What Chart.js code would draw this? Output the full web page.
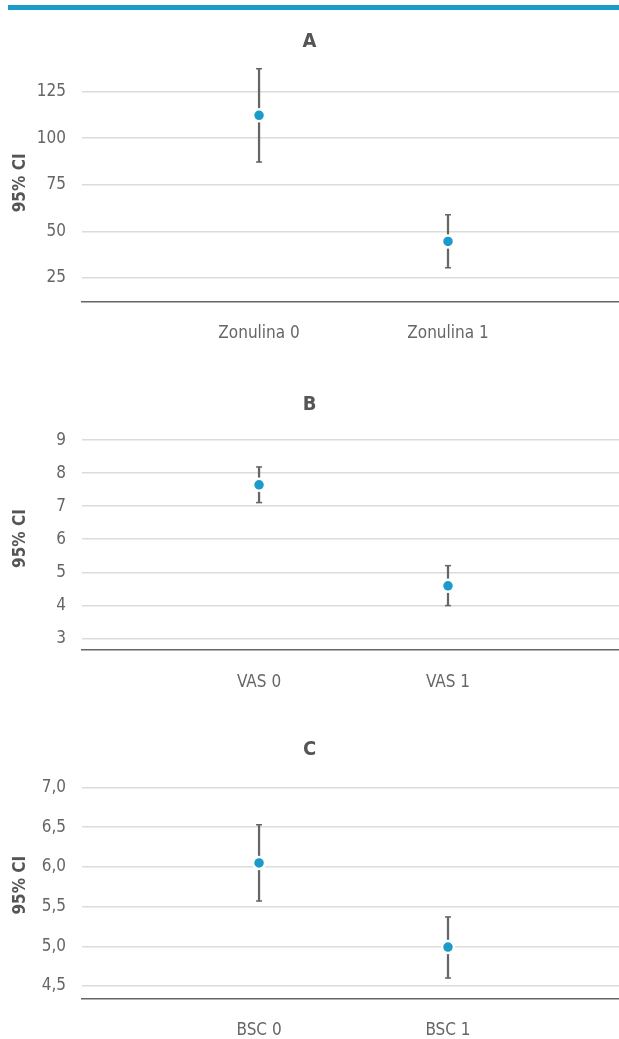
<!DOCTYPE html>
<html>
<head>
<meta charset="utf-8">
<script src="https://cdn.jsdelivr.net/npm/chart.js@4"></script>
<style>
  body { margin: 0; background: #fff; width: 619px; height: 1039px; position: relative; overflow: hidden; }
  .topbar { position: absolute; left: 8px; top: 5px; width: 611px; height: 5px; background: #1b9bc9; z-index: 2; }
  .box { position: absolute; left: 0; width: 619px; }
</style>
</head>
<body>
<div class="topbar"></div>
<div class="box" style="top:0;height:360px"><canvas id="chartA" width="619" height="360"></canvas></div>
<div class="box" style="top:360px;height:340px"><canvas id="chartB" width="619" height="340"></canvas></div>
<div class="box" style="top:700px;height:339px"><canvas id="chartC" width="619" height="339"></canvas></div>
<script>
// values (mean and 95% CI bounds)
const zonLabels = ['Zonulina 0', 'Zonulina 1'];
const zonMean = [112.3, 44.6];
const zonLower = [87.3, 30.5];
const zonUpper = [137.3, 58.9];

const vasLabels = ['VAS 0', 'VAS 1'];
const vasMean = [7.65, 4.59];
const vasLower = [7.11, 3.99];
const vasUpper = [8.19, 5.2];

const bscLabels = ['BSC 0', 'BSC 1'];
const bscMean = [6.05, 4.99];
const bscLower = [5.57, 4.60];
const bscUpper = [6.53, 5.37];

const blue = '#1b9bc9';
const grey = '#666';
const fontFam = '"DejaVu Sans Condensed", "Liberation Sans Narrow", Roboto, sans-serif';

function ciChart(id, o) {
    const labels = o.labels;
    const ctx = document.getElementById(id).getContext('2d');
    const caps = [];
    labels.forEach((l, i) => {
        caps.push({x: i, y: o.lower[i]});
        caps.push({x: i, y: o.upper[i]});
    });
    return new Chart(ctx, {
        type: 'scatter',
        data: {
            datasets: [{
                data: o.mean.map((v, i) => ({x: i, y: v})),
                backgroundColor: blue,
                borderColor: '#fff',
                borderWidth: 2.5,
                pointRadius: 6,
                pointHoverRadius: 6
            }, {
                data: caps,
                pointStyle: 'line',
                pointRadius: 3,
                borderColor: grey,
                borderWidth: 1.5
            }, {
                type: 'bar',
                data: o.mean.map((v, i) => ({x: i, y: [o.lower[i], o.upper[i]]})),
                backgroundColor: grey,
                borderWidth: 0,
                barThickness: 1.6
            }]
        },
        options: {
            responsive: false,
            animation: false,
            layout: { padding: 0, autoPadding: false },
            plugins: {
                legend: { display: false },
                tooltip: { enabled: false },
                title: {
                    display: true,
                    text: o.title,
                    color: '#555',
                    font: { family: fontFam, size: 20, weight: 'bold', lineHeight: 1.2 },
                    padding: { top: o.titleTop, bottom: 10 }
                }
            },
            scales: {
                x: {
                    type: 'linear',
                    min: -0.937,
                    max: 1.905,
                    offset: false,
                    grid: { display: false },
                    border: { display: true, color: grey, width: 1.5 },
                    afterBuildTicks: s => { s.ticks = labels.map((l, i) => ({value: i})); },
                    afterFit: s => { s.height = o.xHeight; },
                    ticks: {
                        padding: 14,
                        color: grey,
                        font: { family: fontFam, size: 17 },
                        callback: v => labels[v]
                    }
                },
                y: {
                    min: o.min,
                    max: o.max,
                    grid: { color: '#dcdcdc', lineWidth: 1.5, drawTicks: false },
                    border: { display: false },
                    afterFit: s => { s.width = 82; },
                    title: {
                        display: true,
                        text: '95% CI',
                        color: '#555',
                        font: { family: fontFam, size: 17, weight: 'bold' },
                        padding: { top: 10, bottom: 0 }
                    },
                    ticks: {
                        stepSize: o.step,
                        includeBounds: false,
                        padding: 16,
                        color: grey,
                        font: { family: fontFam, size: 17 },
                        callback: o.fmt || (v => v)
                    }
                }
            }
        }
    });
}

ciChart('chartA', { title: 'A', labels: zonLabels, mean: zonMean, lower: zonLower, upper: zonUpper,
    min: 12.3, max: 139.8, step: 25, titleTop: 30, xHeight: 58.3 });
ciChart('chartB', { title: 'B', labels: vasLabels, mean: vasMean, lower: vasLower, upper: vasUpper,
    min: 2.645, max: 9.4, step: 1, titleTop: 33, xHeight: 50 });
ciChart('chartC', { title: 'C', labels: bscLabels, mean: bscMean, lower: bscLower, upper: bscUpper,
    min: 4.345, max: 7.195, step: 0.5, titleTop: 38, xHeight: 40.7,
    fmt: v => v.toFixed(1).replace('.', ',') });
</script>
</body>
</html>
